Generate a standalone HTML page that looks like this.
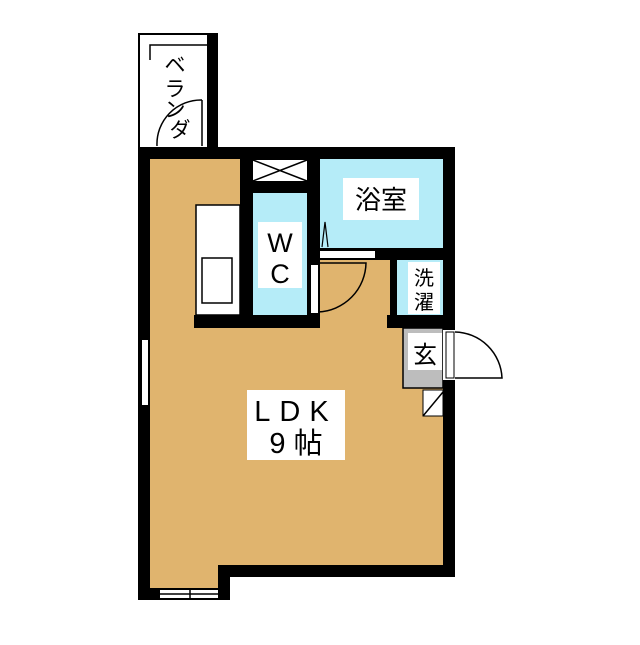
<!DOCTYPE html>
<html><head><meta charset="utf-8"><style>
body{margin:0;background:#fff}
svg text{font-family:"Liberation Sans","Noto Sans CJK JP",sans-serif;fill:#000}
</style></head><body>
<svg width="640" height="640" viewBox="0 0 640 640" xmlns="http://www.w3.org/2000/svg">
<rect width="640" height="640" fill="#fff"/>
<!-- balcony -->
<rect x="138" y="33" width="80" height="120" fill="#000"/>
<rect x="140" y="35" width="67" height="112" fill="#fff"/>
<path d="M150 60 V45 H207" stroke="#000" stroke-width="1.5" fill="none"/>
<rect x="158" y="149" width="45" height="7" fill="#fff"/>
<path d="M202 100 V146 M202 100 A44 44 0 0 0 157 146" stroke="#000" stroke-width="1.5" fill="none"/>
<text x="175" y="72" font-size="21" text-anchor="middle">ベ</text>
<text x="175" y="96" font-size="21" text-anchor="middle">ラ</text>
<text x="175" y="117" font-size="21" text-anchor="middle">ン</text>
<text x="180" y="137" font-size="21" text-anchor="middle">ダ</text>
<!-- main outline -->
<path d="M138 147 H455 V577 H230 V600 H138 Z" fill="#000"/>
<path d="M150 159 H443 V565 H218 V588 H150 Z" fill="#e0b46e"/>
<rect x="160" y="590" width="58" height="8" fill="#fff"/>
<path d="M160 594 H218 M190 588 V600" stroke="#000" stroke-width="1.5"/>
<rect x="142" y="340" width="6" height="65" fill="#fff"/>
<!-- closet / wc -->
<rect x="240" y="158" width="80" height="170" fill="#000"/>
<rect x="194" y="315" width="126" height="13" fill="#000"/>
<rect x="253" y="160" width="54" height="21" fill="#fff"/>
<path d="M253 160 L307 181 M307 160 L253 181" stroke="#000" stroke-width="1.5"/>
<rect x="253" y="193" width="54" height="122" fill="#b5ecf8"/>
<rect x="258" y="222" width="44" height="66" fill="#fff"/>
<text x="280" y="252" font-size="27" text-anchor="middle">W</text>
<text x="280" y="283" font-size="27" text-anchor="middle">C</text>
<rect x="311" y="265" width="7" height="48" fill="#fff"/>
<path d="M318 312 A50 50 0 0 0 366 263 H318" stroke="#000" stroke-width="1.5" fill="none"/>
<!-- bath -->
<rect x="320" y="159" width="123" height="89" fill="#b5ecf8"/>
<rect x="320" y="248" width="135" height="12" fill="#000"/>
<rect x="320" y="251" width="55" height="7" fill="#fff"/>
<path d="M322 247 L325 222 L328 247" stroke="#000" stroke-width="1.2" fill="none"/>
<rect x="343" y="178" width="76" height="42" fill="#fff"/>
<text x="381" y="209" font-size="26" text-anchor="middle">浴室</text>
<!-- washroom -->
<rect x="390" y="260" width="7" height="58" fill="#000"/>
<rect x="397" y="260" width="46" height="55" fill="#b5ecf8"/>
<rect x="387" y="315" width="68" height="13" fill="#000"/>
<rect x="408" y="262" width="32" height="52" fill="#fff"/>
<text x="424" y="285" font-size="20" text-anchor="middle">洗</text>
<text x="424" y="309" font-size="20" text-anchor="middle">濯</text>
<!-- genkan -->
<rect x="403" y="328" width="40" height="60" fill="#bdbdbd" stroke="#000" stroke-width="1.5"/>
<rect x="408" y="333" width="34" height="37" fill="#fff"/>
<text x="425" y="363" font-size="24" text-anchor="middle">玄</text>
<rect x="423" y="390" width="20" height="26" fill="#fff" stroke="#000" stroke-width="1"/>
<path d="M423 416 L443 392" stroke="#000" stroke-width="1.5"/>
<rect x="443" y="330" width="14" height="50" fill="#fff"/>
<rect x="446" y="332" width="8" height="46" fill="#fff" stroke="#000" stroke-width="1"/>
<path d="M455 332 A48 48 0 0 1 502 378 H455" stroke="#000" stroke-width="1.5" fill="none"/>
<!-- kitchen -->
<rect x="196" y="205" width="44" height="110" fill="#fff" stroke="#000" stroke-width="1.5"/>
<rect x="202" y="258" width="30" height="45" fill="#fff" stroke="#000" stroke-width="1.5"/>
<!-- LDK -->
<rect x="247" y="390" width="98" height="70" fill="#fff"/>
<text x="296" y="421" font-size="29" text-anchor="middle" letter-spacing="9">LDK</text>
<text x="296" y="453" font-size="29" text-anchor="middle">9 帖</text>
</svg>
</body></html>
